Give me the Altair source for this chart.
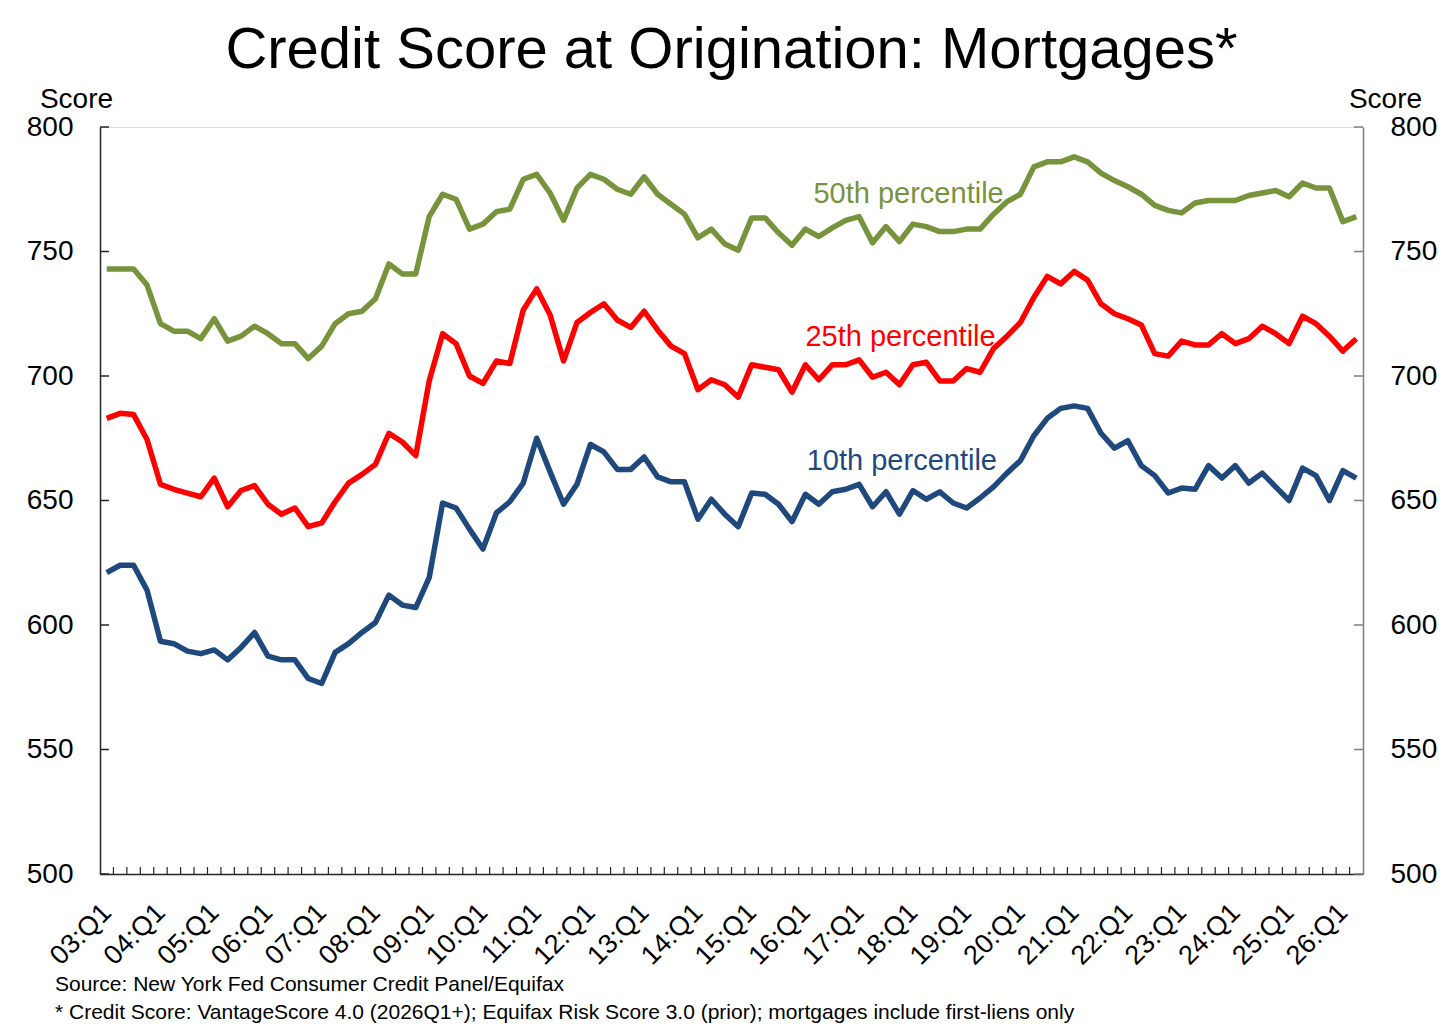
import json
import altair as alt
import pandas as pd

# ---------------- data ----------------
YEARS = list(range(2003, 2027))
QUARTERS = [f"{y % 100:02d}:Q{q}" for y in YEARS for q in range(1, 5)][:94]
TICK_LABELS = [f"{y % 100:02d}:Q1" for y in YEARS]

P50 = [743, 743, 743, 736.5, 721, 718, 718, 715, 723, 714,
       716, 720, 717, 713, 713, 707, 712, 721, 725, 726,
       731, 745, 741, 741, 764, 773, 771, 759, 761, 766,
       767, 779, 781, 773.5, 762.5, 775.5, 781, 779, 775, 773,
       780, 773, 769, 765, 755.5, 759, 753, 750.5, 763.5, 763.5,
       757.5, 752.5, 759, 756, 759.5, 762.5, 764, 753.5, 760, 754,
       761, 760, 758, 758, 759, 759, 765, 770, 773, 784,
       786, 786, 788, 786, 781.5, 778.5, 776, 773, 768.5, 766.5,
       765.5, 769.5, 770.5, 770.5, 770.5, 772.5, 773.5, 774.5, 772, 777.5,
       775.5, 775.5, 762, 764]

P25 = [683, 685, 684.5, 674.5, 656.5, 654.5, 653, 651.5, 659, 647.5,
       654, 656, 648.5, 644.5, 647, 639.5, 641, 649.5, 657, 660.5,
       664.5, 677, 673.5, 668, 698, 717, 713, 700, 697, 706,
       705, 726.5, 735, 724.5, 706, 721.5, 725.5, 729, 722.5, 719.5,
       726, 718.5, 712, 709, 694.5, 698.5, 696.5, 691.5, 704.5, 703.5,
       702.5, 693.5, 704.5, 698.5, 704.5, 704.5, 706.5, 699.5, 701.5, 696.5,
       704.5, 705.5, 698, 698, 703, 701.5, 711, 716, 721.5, 731.5,
       740, 737, 742, 738.5, 729, 725, 723, 720.5, 709, 708,
       714, 712.5, 712.5, 717, 713, 715, 720, 717, 713, 724,
       721, 716, 710, 715]

P10 = [621, 624, 624, 614, 593.5, 592.5, 589.5, 588.5, 590, 586,
       591, 597, 587.5, 586, 586, 578.5, 576.5, 589, 592.5, 597,
       601, 612, 608, 607, 619, 649, 647, 638.5, 630.5, 645,
       649.5, 657, 675, 661.5, 648.5, 656.5, 672.5, 669.5, 662.5, 662.5,
       667.5, 659.5, 657.5, 657.5, 642.5, 650.5, 644.5, 639.5, 653, 652.5,
       648.5, 641.5, 652.5, 648.5, 653.5, 654.5, 656.5, 647.5, 653.5, 644.5,
       654, 650.5, 653.5, 649, 647, 651, 655.5, 661, 666, 676,
       683, 687, 688, 687, 677, 671, 674, 664, 660, 653,
       655, 654.5, 664, 659, 664, 657, 661, 655.5, 650, 663,
       660, 650, 662, 659]

SERIES = ["50th percentile", "25th percentile", "10th percentile"]
COLORS = ["#77933C", "#FF0000", "#1F497D"]
Y_TICKS = [500, 550, 600, 650, 700, 750, 800]

TITLE = "Credit Score at Origination: Mortgages*"
NOTE1 = "Source: New York Fed Consumer Credit Panel/Equifax"
NOTE2 = ("* Credit Score: VantageScore 4.0 (2026Q1+); Equifax Risk Score 3.0 "
         "(prior); mortgages include first-liens only")

# series label anchors (in data coordinates)
LABEL_IDX = [52.6, 52.0, 52.1]
LABEL_VAL = [773.0, 715.7, 665.9]

# ---------------- tables ----------------
rows = []
for name, vals in zip(SERIES, [P50, P25, P10]):
    for i, v in enumerate(vals):
        rows.append({"idx": i, "quarter": QUARTERS[i], "series": name, "value": v})
df = pd.DataFrame(rows)

lab_df = pd.DataFrame({"series": SERIES, "idx": LABEL_IDX, "value": LABEL_VAL})
ytick_df = pd.DataFrame({"v": Y_TICKS})
n = len(QUARTERS)
xtick_df = pd.DataFrame({"b": [k - 0.5 for k in range(1, n)]})

W, H = 1263, 747
FONT = "Liberation Sans"
X_DOMAIN = [-0.5, n - 0.5]

xscale = alt.Scale(domain=X_DOMAIN, nice=False, zero=False)
yscale = alt.Scale(domain=[500, 800], nice=False, zero=False)
cscale = alt.Scale(domain=SERIES, range=COLORS)

label_expr = json.dumps(TICK_LABELS) + "[round(datum.value / 4)]"

x_axis = alt.Axis(values=list(range(0, n, 4)), labelExpr=label_expr, ticks=False,
                  tickSize=0, grid=False, labelAngle=-45, labelAlign="right",
                  labelBaseline="middle", labelFontSize=27, labelFont=FONT,
                  labelColor="black", labelPadding=34, domainColor="#262626",
                  domainWidth=1.5, title=None, labelOverlap=False,
                  labelFlush=False, labelBound=False)

y_axis_left = alt.Axis(values=Y_TICKS, ticks=False, tickSize=0, grid=False,
                       labelFontSize=28, labelFont=FONT, labelColor="black",
                       labelPadding=27, domainColor="#262626", domainWidth=1.5,
                       title="Score", titleAngle=0, titleAlign="center",
                       titleBaseline="alphabetic", titleX=-24, titleY=-20,
                       titleFontSize=28, titleFont=FONT, titleFontWeight="normal",
                       titleColor="black")

y_axis_right = alt.Axis(orient="right", values=Y_TICKS, ticks=False, tickSize=0,
                        grid=False, labelFontSize=28, labelFont=FONT,
                        labelColor="black", labelPadding=27, domainColor="#7f7f7f",
                        domainWidth=1.5, title="Score", titleAngle=0,
                        titleAlign="center", titleBaseline="alphabetic",
                        titleX=22, titleY=-20, titleFontSize=28, titleFont=FONT,
                        titleFontWeight="normal", titleColor="black")

lines = alt.Chart(df).mark_line(strokeWidth=5.5, strokeJoin="round").encode(
    x=alt.X("idx:Q", scale=xscale, axis=x_axis),
    y=alt.Y("value:Q", scale=yscale, axis=y_axis_left),
    color=alt.Color("series:N", scale=cscale, legend=None),
    order="idx:Q",
)

labels = alt.Chart(lab_df).mark_text(align="left", baseline="middle",
                                     fontSize=29, font=FONT).encode(
    x=alt.X("idx:Q", scale=xscale),
    y=alt.Y("value:Q", scale=yscale, axis=None),
    text="series:N",
    color=alt.Color("series:N", scale=cscale, legend=None),
)

left_ticks = alt.Chart(ytick_df).mark_rule(color="#262626", strokeWidth=1.5).encode(
    y=alt.Y("v:Q", scale=yscale, axis=None),
    x=alt.value(0), x2=alt.value(9),
)

right_ticks = alt.Chart(ytick_df).mark_rule(color="#7f7f7f", strokeWidth=1.5).encode(
    y=alt.Y("v:Q", scale=yscale, axis=y_axis_right),
    x=alt.value(W - 9), x2=alt.value(W),
)

bottom_ticks = alt.Chart(xtick_df).mark_rule(color="#262626", strokeWidth=1.2).encode(
    x=alt.X("b:Q", scale=xscale),
    y=alt.value(H), y2=alt.value(H - 7),
)

note1 = alt.Chart(pd.DataFrame({"t": [NOTE1]})).mark_text(
    align="left", baseline="alphabetic", fontSize=21, font=FONT, color="black"
).encode(x=alt.value(-45), y=alt.value(864), text="t:N")

note2 = alt.Chart(pd.DataFrame({"t": [NOTE2]})).mark_text(
    align="left", baseline="alphabetic", fontSize=21, font=FONT, color="black"
).encode(x=alt.value(-45), y=alt.value(892), text="t:N")

chart = alt.layer(
    lines, labels, left_ticks, right_ticks, bottom_ticks, note1, note2
).resolve_scale(y="shared", x="shared").resolve_axis(y="independent").properties(
    width=W, height=H,
    title=alt.TitleParams(TITLE, fontSize=58, font=FONT, fontWeight="normal",
                          color="black", anchor="middle", frame="group",
                          baseline="alphabetic", offset=19, dy=60),
    autosize=alt.AutoSizeParams(type="none"),
    padding={"left": 92, "top": 119, "right": 85, "bottom": 150},
).configure_view(stroke="#7f7f7f", strokeWidth=1.5).configure(background="white")

chart.save("out.html", embed_options={"renderer": "svg", "actions": False})
